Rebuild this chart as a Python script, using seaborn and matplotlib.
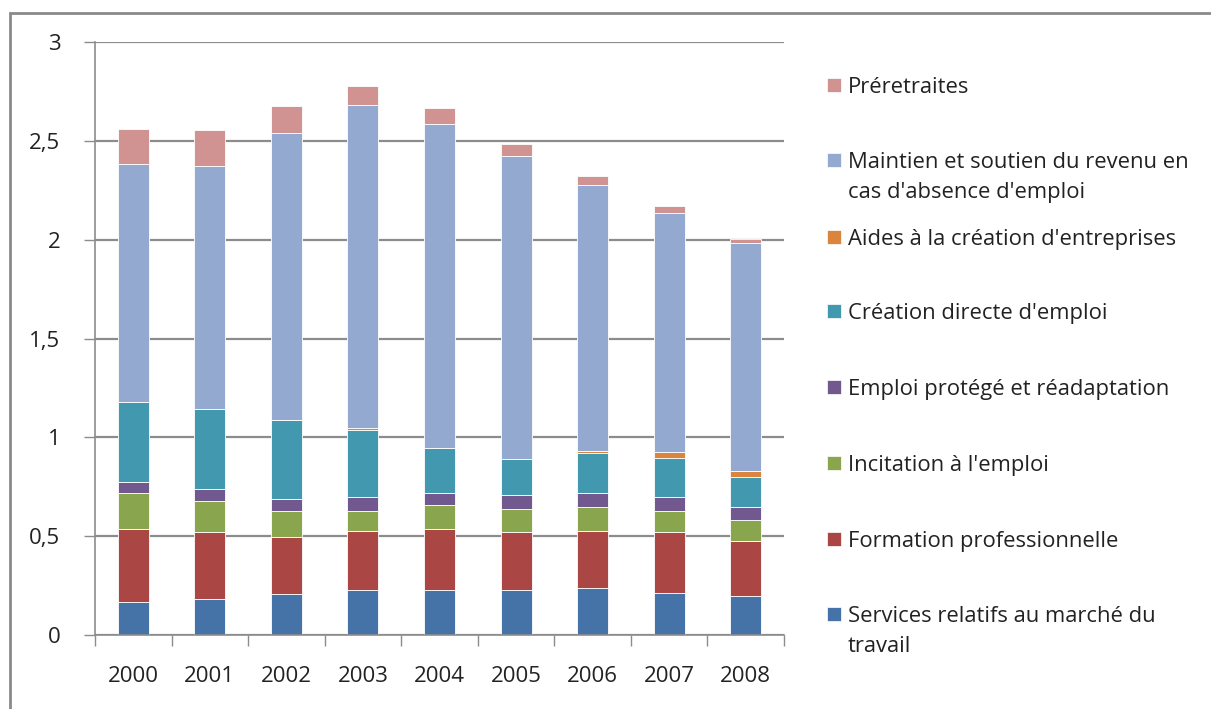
import matplotlib
matplotlib.use("Agg")
import matplotlib.pyplot as plt
from matplotlib.patches import Rectangle
import numpy as np
import seaborn as sns

years = ["2000", "2001", "2002", "2003", "2004", "2005", "2006", "2007", "2008"]

services = [0.167, 0.184, 0.209, 0.228, 0.228, 0.228, 0.239, 0.214, 0.196]
formation = [0.371, 0.336, 0.285, 0.298, 0.310, 0.292, 0.287, 0.306, 0.280]
incitation = [0.182, 0.158, 0.135, 0.103, 0.121, 0.116, 0.122, 0.109, 0.104]
emploi_protege = [0.056, 0.061, 0.061, 0.068, 0.061, 0.072, 0.072, 0.068, 0.068]
creation_directe = [0.403, 0.403, 0.396, 0.342, 0.226, 0.182, 0.201, 0.200, 0.151]
aides_creation = [0.000, 0.000, 0.000, 0.010, 0.000, 0.000, 0.008, 0.030, 0.031]
maintien_revenu = [1.205, 1.231, 1.455, 1.634, 1.641, 1.532, 1.346, 1.206, 1.153]
preretraites = [0.177, 0.180, 0.135, 0.093, 0.078, 0.060, 0.049, 0.039, 0.020]

series_names = [
    "Services relatifs au marché du\ntravail",
    "Formation professionnelle",
    "Incitation à l'emploi",
    "Emploi protégé et réadaptation",
    "Création directe d'emploi",
    "Aides à la création d'entreprises",
    "Maintien et soutien du revenu en\ncas d'absence d'emploi",
    "Préretraites",
]
series_values = [services, formation, incitation, emploi_protege,
                 creation_directe, aides_creation, maintien_revenu, preretraites]
colors = ["#4572A7", "#AA4643", "#89A54E", "#71588F",
          "#4198AF", "#DB843D", "#93A9CF", "#D19392"]

sns.set_theme(style="white")
plt.rcParams["font.family"] = ["Open Sans", "DejaVu Sans"]

W, H = 1211, 709
fig = plt.figure(figsize=(W / 100, H / 100), dpi=100)
ax = fig.add_axes([95 / W, 1 - 635 / H, (784 - 95) / W, (635 - 42) / H])

grid_col = "#8c8c8c"
ax.set_axisbelow(True)
ax.yaxis.grid(True, color=grid_col, linewidth=1.6)

bottom = np.zeros(len(years))
for name, vals, col in zip(series_names, series_values, colors):
    sns.barplot(x=years, y=vals, bottom=bottom, color=col, width=0.405,
                saturation=1, edgecolor="#ffffff", linewidth=0.6, ax=ax)
    bottom = bottom + np.array(vals)

ax.set_ylim(0, 3)
ax.set_xlim(-0.5, len(years) - 0.5)
ax.set_yticks([0, 0.5, 1, 1.5, 2, 2.5, 3])
ax.set_yticklabels(["0", "0,5", "1", "1,5", "2", "2,5", "3"])
ax.set_xticks(range(len(years)))
ax.set_xticklabels(years)
ax.set_xticks(np.arange(-0.5, len(years), 1.0), minor=True)
ax.tick_params(axis="y", which="major", length=8, width=1, color=grid_col,
               direction="out", pad=17, labelsize=16, labelcolor="#222222", left=True)
ax.tick_params(axis="x", which="major", length=0, pad=22, labelsize=16,
               labelcolor="#222222")
ax.tick_params(axis="x", which="minor", length=8, width=1, color=grid_col,
               direction="out", bottom=True)
ax.set_xlabel("")
ax.set_ylabel("")

for s in ["top", "right"]:
    ax.spines[s].set_visible(False)
for s in ["left", "bottom"]:
    ax.spines[s].set_visible(True)
    ax.spines[s].set_color(grid_col)
    ax.spines[s].set_linewidth(1.2)

# Legend on the right, top entry = last series; wrapped labels continue below
legend_rows = [85, 160, 237, 311, 387, 463, 539, 614]
line_step = 30
for name, col, y in zip(series_names[::-1], colors[::-1], legend_rows):
    fig.patches.append(Rectangle((827 / W, 1 - (y + 7) / H), 14 / W, 14 / H,
                                 transform=fig.transFigure, facecolor=col,
                                 edgecolor="white", linewidth=0.5))
    for k, line in enumerate(name.split("\n")):
        fig.text(848 / W, 1 - (y + 8 + k * line_step) / H, line, ha="left",
                 va="baseline", fontsize=15.8, color="#222222")

# Chart area border
fig.patches.append(Rectangle((10 / W, -0.05), 1.1, 1 - 13 / H + 0.05,
                             transform=fig.transFigure, fill=False,
                             edgecolor="#8a8a8a", linewidth=2))

fig.savefig("out.png", dpi=100)
